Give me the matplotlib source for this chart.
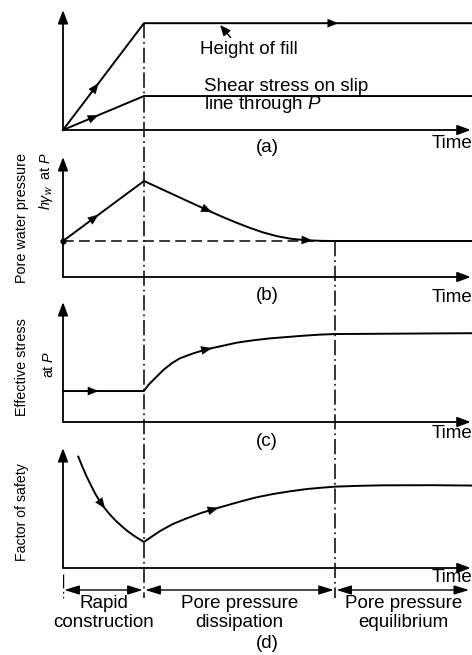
import numpy as np
import matplotlib.pyplot as plt

plt.rcParams["font.family"] = ["Liberation Sans", "DejaVu Sans"]
plt.rcParams["mathtext.fontset"] = "custom"
plt.rcParams["mathtext.rm"] = "Liberation Sans"
plt.rcParams["mathtext.it"] = "Liberation Sans:italic"

# ======================================================
# Data (time in units of construction period, values 0..1 of panel height)
# ======================================================

T_CONSTRUCTION = 1.0
T_EQUILIBRIUM = 3.36
T_MAX = 5.05

fill_t = [0.0, 1.0, 5.05]
fill_v = [0.0, 0.89, 0.89]

shear_t = [0.0, 1.0, 5.05]
shear_v = [0.0, 0.283, 0.283]

pore_t = [0.0, 1.0, 1.238, 1.485, 1.65, 1.815, 1.979, 2.144, 2.309, 2.473,
          2.638, 2.802, 2.926, 3.049, 3.2, 3.36, 5.05]
pore_v = [0.30, 0.80, 0.726, 0.649, 0.598, 0.547, 0.498, 0.452, 0.409, 0.371,
          0.341, 0.320, 0.311, 0.305, 0.301, 0.30, 0.30]
pore_static = 0.30

eff_t = [0.0, 1.0, 1.053, 1.115, 1.177, 1.238, 1.342, 1.444, 1.609, 1.774,
         1.959, 2.144, 2.35, 2.556, 2.762, 2.967, 3.173, 3.358, 5.05]
eff_v = [0.258, 0.258, 0.308, 0.35, 0.392, 0.433, 0.489, 0.531, 0.572, 0.606,
         0.633, 0.661, 0.681, 0.697, 0.708, 0.719, 0.728, 0.733, 0.74]

fos_t = [0.189, 0.235, 0.293, 0.346, 0.395, 0.444, 0.498, 0.568, 0.642, 0.716,
         0.786, 0.889, 1.0, 1.099, 1.198, 1.358, 1.527, 1.704, 1.898, 2.185,
         2.383, 2.596, 2.802, 3.009, 3.173, 3.358, 3.667, 3.951, 4.568, 5.05]
fos_v = [0.928, 0.850, 0.761, 0.688, 0.623, 0.567, 0.513, 0.454, 0.400, 0.354,
         0.313, 0.263, 0.217, 0.263, 0.308, 0.367, 0.414, 0.458, 0.498, 0.553,
         0.588, 0.617, 0.639, 0.658, 0.668, 0.678, 0.685, 0.689, 0.690, 0.687]

phase_edges = [0.0, T_CONSTRUCTION, T_EQUILIBRIUM, T_MAX]
phase_labels = ["Rapid\nconstruction", "Pore pressure\ndissipation",
                "Pore pressure\nequilibrium"]

# ======================================================
# Layout
# ======================================================

W, H = 472, 655
LEFT = 63 / W
PANEL_H = 120
FS = 13.5
YFS = 10.4
LW = 1.4

AXIS_ARROW = dict(arrowstyle="-|>,head_length=0.8,head_width=0.3",
                  color="black", lw=1.3, shrinkA=0, shrinkB=0,
                  mutation_scale=10)
FLOW_ARROW = dict(arrowstyle="-|>,head_length=0.85,head_width=0.34",
                  color="black", lw=0.1, shrinkA=0, shrinkB=0,
                  mutation_scale=9)
PHASE_LS = (0, (10, 2.5, 1.2, 2.5))

fig = plt.figure(figsize=(W / 100, H / 100), dpi=100)


def make_panel(base_px):
    ax = fig.add_axes([LEFT, 1 - base_px / H, 1 - LEFT, PANEL_H / H])
    ax.set_xlim(0, T_MAX)
    ax.set_ylim(0, 1)
    ax.axis("off")
    ax.annotate("", xy=(0, 1), xytext=(0, 0), xycoords="axes fraction",
                arrowprops=AXIS_ARROW, annotation_clip=False)
    ax.annotate("", xy=(0.997, 0), xytext=(0, 0), xycoords="axes fraction",
                arrowprops=AXIS_ARROW, annotation_clip=False)
    return ax


def flow_arrow(ax, t, v, at):
    ax.annotate("", xy=(at, np.interp(at, t, v)),
                xytext=(at - 0.06, np.interp(at - 0.06, t, v)),
                arrowprops=FLOW_ARROW, annotation_clip=False)


ax_a = make_panel(130)
ax_b = make_panel(277)
ax_c = make_panel(422)
ax_d = make_panel(568)

# ------------------------------------------------------
# (a) height of fill and shear stress
# ------------------------------------------------------
ax_a.plot(fill_t, fill_v, color="black", lw=LW, clip_on=False)
ax_a.plot(shear_t, shear_v, color="black", lw=LW, clip_on=False)
flow_arrow(ax_a, fill_t, fill_v, 0.44)
flow_arrow(ax_a, shear_t, shear_v, 0.44)
flow_arrow(ax_a, fill_t, fill_v, 3.40)
ax_a.text(1.69, 0.675, "Height of fill", fontsize=FS, va="center")
ax_a.annotate("", xy=(1.94, 0.875), xytext=(2.07, 0.77),
              arrowprops=dict(arrowstyle="-|>,head_length=0.7,head_width=0.3",
                              color="black", lw=1.0, shrinkA=0, shrinkB=0,
                              mutation_scale=9))
ax_a.text(1.74, 0.36, "Shear stress on slip", fontsize=FS, va="center")
ax_a.text(1.74, 0.215, "line through $P$", fontsize=FS, va="center")

# ------------------------------------------------------
# (b) pore water pressure
# ------------------------------------------------------
ax_b.plot([0, T_EQUILIBRIUM], [pore_static, pore_static], color="black",
          lw=1.1, dashes=(7, 3.5))
ax_b.plot(pore_t, pore_v, color="black", lw=LW, clip_on=False)
ax_b.plot([0], [pore_static], "o", color="black", ms=3.5, clip_on=False)
flow_arrow(ax_b, pore_t, pore_v, 0.44)
flow_arrow(ax_b, pore_t, pore_v, 1.84)
flow_arrow(ax_b, pore_t, pore_v, 3.08)
ax_b.text(-0.10, 0.49, "Pore water pressure", transform=ax_b.transAxes,
          rotation=90, fontsize=YFS, ha="center", va="center")
ax_b.text(-0.042, 0.805, r"$h\gamma_{w}$  at $P$", transform=ax_b.transAxes,
          rotation=90, fontsize=YFS, ha="center", va="center")

# ------------------------------------------------------
# (c) effective stress
# ------------------------------------------------------
ax_c.plot(eff_t, eff_v, color="black", lw=LW, clip_on=False)
flow_arrow(ax_c, eff_t, eff_v, 0.44)
flow_arrow(ax_c, eff_t, eff_v, 1.84)
ax_c.text(-0.10, 0.458, "Effective stress", transform=ax_c.transAxes,
          rotation=90, fontsize=YFS, ha="center", va="center")
ax_c.text(-0.035, 0.483, "at $P$", transform=ax_c.transAxes,
          rotation=90, fontsize=YFS, ha="center", va="center")

# ------------------------------------------------------
# (d) factor of safety
# ------------------------------------------------------
ax_d.plot(fos_t, fos_v, color="black", lw=LW, clip_on=False)
flow_arrow(ax_d, fos_t, fos_v, 0.52)
flow_arrow(ax_d, fos_t, fos_v, 1.92)
ax_d.text(-0.10, 0.4625, "Factor of safety", transform=ax_d.transAxes,
          rotation=90, fontsize=10.2, ha="center", va="center")

# Panel captions and time labels
for ax, letter, cap_dy, time_dy in [(ax_a, "(a)", 18, 13), (ax_b, "(b)", 18, 20),
                                    (ax_c, "(c)", 20, 12), (ax_d, "(d)", 76, 9)]:
    ax.text(2.52, -cap_dy / PANEL_H, letter, fontsize=FS, ha="center",
            va="center", clip_on=False)
    ax.text(4.556, -time_dy / PANEL_H, "Time", fontsize=FS, ha="left",
            va="center", clip_on=False)

# ------------------------------------------------------
# Phase boundaries and dimension arrows (overlay in image rows)
# ------------------------------------------------------
ov = fig.add_axes([LEFT, 0, 1 - LEFT, 1])
ov.set_xlim(0, T_MAX)
ov.set_ylim(H, 0)
ov.axis("off")


def row_of(ax, t, v):
    return H - ax.transData.transform((t, v))[1]


DIM_ROW = 590
LINE_END = 598
ov.plot([T_CONSTRUCTION, T_CONSTRUCTION],
        [row_of(ax_a, T_CONSTRUCTION, fill_v[1]), LINE_END],
        color="black", lw=1.1, linestyle=PHASE_LS)
ov.plot([T_EQUILIBRIUM, T_EQUILIBRIUM],
        [row_of(ax_b, T_EQUILIBRIUM, pore_static), LINE_END],
        color="black", lw=1.1, linestyle=PHASE_LS)
ov.plot([0, 0], [row_of(ax_d, 0, 0) + 6, LINE_END], color="black", lw=1.0,
        linestyle=PHASE_LS)

DIM_ARROW = dict(arrowstyle="<|-|>,head_length=0.9,head_width=0.28",
                 color="black", lw=1.0, shrinkA=1, shrinkB=1,
                 mutation_scale=10)
for i, label in enumerate(phase_labels):
    x0, x1 = phase_edges[i], phase_edges[i + 1]
    ov.annotate("", xy=(x1 - (0.02 if i == 2 else 0), DIM_ROW),
                xytext=(x0, DIM_ROW), arrowprops=DIM_ARROW)
    ov.text((x0 + x1) / 2, 613, label, fontsize=FS, ha="center", va="center",
            linespacing=1.1)

fig.savefig("out.png", dpi=100, facecolor="white")
